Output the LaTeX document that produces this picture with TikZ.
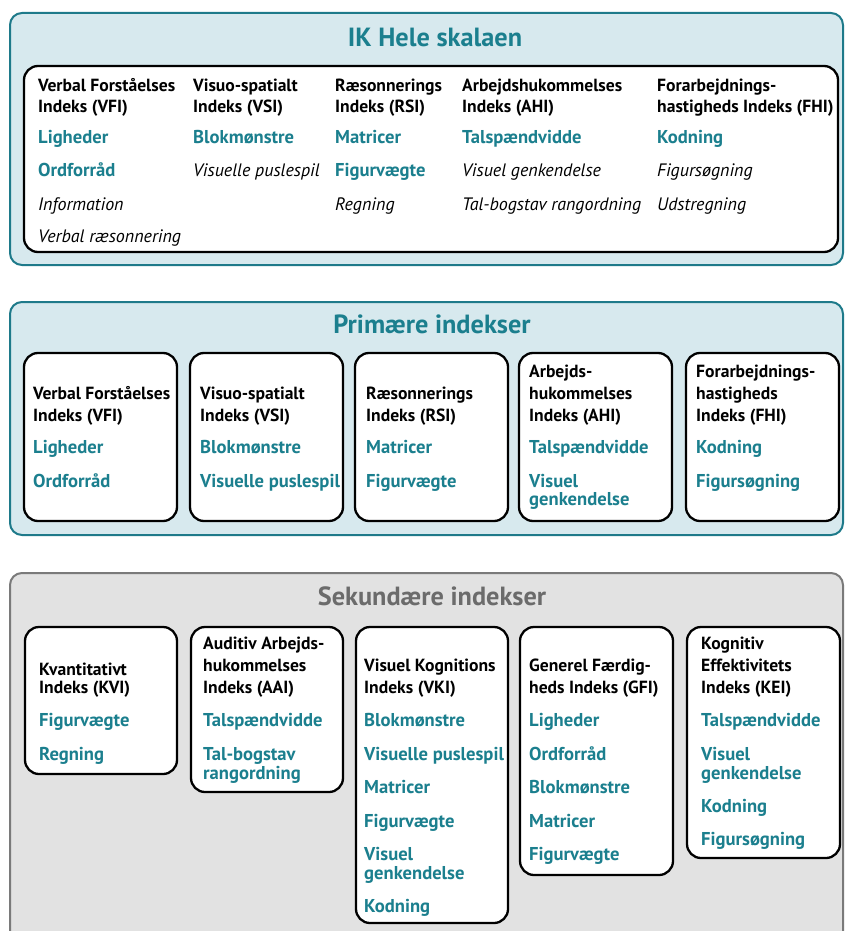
\documentclass[tikz,border=0pt]{standalone}
\usepackage{fontspec}
\setmainfont{PT Sans}
\definecolor{tealtx}{HTML}{1B7F8E}
\definecolor{tealbd}{HTML}{1E7A8A}
\definecolor{lightbl}{HTML}{D7E9EE}
\definecolor{grayfill}{HTML}{E2E2E2}
\definecolor{graybd}{HTML}{7A7A7A}
\definecolor{graytx}{HTML}{6B6B6B}
\begin{document}
\begin{tikzpicture}[x=1pt,y=-1pt,
  bluepanel/.style={draw=tealbd,fill=lightbl,line width=2pt,rounded corners=12pt},
  graypanel/.style={draw=graybd,fill=grayfill,line width=2pt,rounded corners=12pt},
  wbox/.style={draw=black,fill=white,line width=2.3pt,rounded corners=14pt},
  ptitle/.style={anchor=base,inner sep=0pt,font=\fontsize{26.3}{30}\selectfont\bfseries,text=tealtx},
  hd/.style={anchor=base west,inner sep=0pt,font=\fontsize{17.6}{20}\selectfont\bfseries,text=black},
  it/.style={anchor=base west,inner sep=0pt,font=\fontsize{18.6}{20}\selectfont\bfseries,text=tealtx},
  ix/.style={anchor=base west,inner sep=0pt,font=\fontsize{18}{20}\selectfont\itshape,text=black}]
\useasboundingbox (0,0) rectangle (845,931);

% ---------------- Panel 1 ----------------
\path[bluepanel] (10,13) rectangle (843,265);
\node[ptitle] (t1) at (435,47) {IK Hele skalaen};
\path[wbox] (24,66) rectangle (838,252);
% col 1
\node[hd] (a1h1) at (38,92) {Verbal Forståelses};
\node[hd] (a1h2) at (38,113) {Indeks (VFI)};
\node[it] (a1i1) at (38,143) {Ligheder};
\node[it] (a1i2) at (38,176) {Ordforråd};
\node[ix] (a1i3) at (38,210) {Information};
\node[ix] (a1i4) at (38,242) {Verbal ræsonnering};
% col 2
\node[hd] (a2h1) at (193,92) {Visuo-spatialt};
\node[hd] (a2h2) at (193,113) {Indeks (VSI)};
\node[it] (a2i1) at (193,143) {Blokmønstre};
\node[ix] (a2i2) at (193,176) {Visuelle puslespil};
% col 3
\node[hd] (a3h1) at (335,92) {Ræsonnerings};
\node[hd] (a3h2) at (335,113) {Indeks (RSI)};
\node[it] (a3i1) at (335,143) {Matricer};
\node[it] (a3i2) at (335,176) {Figurvægte};
\node[ix] (a3i3) at (335,210) {Regning};
% col 4
\node[hd] (a4h1) at (462,92) {Arbejdshukommelses};
\node[hd] (a4h2) at (462,113) {Indeks (AHI)};
\node[it] (a4i1) at (462,143) {Talspændvidde};
\node[ix] (a4i2) at (462,176) {Visuel genkendelse};
\node[ix] (a4i3) at (462,210) {Tal-bogstav rangordning};
% col 5
\node[hd] (a5h1) at (657,92) {Forarbejdnings-};
\node[hd] (a5h2) at (657,113) {hastigheds Indeks (FHI)};
\node[it] (a5i1) at (657,143) {Kodning};
\node[ix] (a5i2) at (657,176) {Figursøgning};
\node[ix] (a5i3) at (657,210) {Udstregning};

% ---------------- Panel 2 ----------------
\path[bluepanel] (10,302) rectangle (843,535);
\node[ptitle] (t2) at (432,333) {Primære indekser};
\path[wbox] (24,353) rectangle (177,521);
\path[wbox] (190,353) rectangle (343,521);
\path[wbox] (355,353) rectangle (508,521);
\path[wbox] (519,353) rectangle (672,521);
\path[wbox] (686,353) rectangle (839,521);
% box 1
\node[hd] (b1h1) at (33,399) {Verbal Forståelses};
\node[hd] (b1h2) at (33,421) {Indeks (VFI)};
\node[it] (b1i1) at (33,453) {Ligheder};
\node[it] (b1i2) at (33,487) {Ordforråd};
% box 2
\node[hd] (b2h1) at (200,399) {Visuo-spatialt};
\node[hd] (b2h2) at (200,421) {Indeks (VSI)};
\node[it] (b2i1) at (200,453) {Blokmønstre};
\node[it] (b2i2) at (200,487) {Visuelle puslespil};
% box 3
\node[hd] (b3h1) at (366,399) {Ræsonnerings};
\node[hd] (b3h2) at (366,421) {Indeks (RSI)};
\node[it] (b3i1) at (366,453) {Matricer};
\node[it] (b3i2) at (366,487) {Figurvægte};
% box 4
\node[hd] (b4h1) at (529,377) {Arbejds-};
\node[hd] (b4h2) at (529,399) {hukommelses};
\node[hd] (b4h3) at (529,421) {Indeks (AHI)};
\node[it] (b4i1) at (529,453) {Talspændvidde};
\node[it] (b4i2) at (529,487) {Visuel};
\node[it] (b4i3) at (529,505) {genkendelse};
% box 5
\node[hd] (b5h1) at (696,377) {Forarbejdnings-};
\node[hd] (b5h2) at (696,399) {hastigheds};
\node[hd] (b5h3) at (696,421) {Indeks (FHI)};
\node[it] (b5i1) at (696,453) {Kodning};
\node[it] (b5i2) at (696,487) {Figursøgning};

% ---------------- Panel 3 ----------------
\path[graypanel] (10,573) rectangle (843,950);
\node[ptitle,text=graytx] (t3) at (432,605) {Sekundære indekser};
\path[wbox] (25,627) rectangle (177,774);
\path[wbox] (191,627) rectangle (343,792);
\path[wbox] (356,627) rectangle (508,923);
\path[wbox] (520,627) rectangle (673,875);
\path[wbox] (687,627) rectangle (840,858);
% box 1
\node[hd] (c1h1) at (39,675) {Kvantitativt};
\node[hd] (c1h2) at (39,693) {Indeks (KVI)};
\node[it] (c1i1) at (39,726) {Figurvægte};
\node[it] (c1i2) at (39,760) {Regning};
% box 2
\node[hd] (c2h1) at (203,649) {Auditiv Arbejds-};
\node[hd] (c2h2) at (203,671) {hukommelses};
\node[hd] (c2h3) at (203,693) {Indeks (AAI)};
\node[it] (c2i1) at (203,726) {Talspændvidde};
\node[it] (c2i2) at (203,760) {Tal-bogstav};
\node[it] (c2i3) at (203,779) {rangordning};
% box 3
\node[hd] (c3h1) at (364,671) {Visuel Kognitions};
\node[hd] (c3h2) at (364,693) {Indeks (VKI)};
\node[it] (c3i1) at (364,726) {Blokmønstre};
\node[it] (c3i2) at (364,760) {Visuelle puslespil};
\node[it] (c3i3) at (364,793) {Matricer};
\node[it] (c3i4) at (364,827) {Figurvægte};
\node[it] (c3i5) at (364,860) {Visuel};
\node[it] (c3i6) at (364,879) {genkendelse};
\node[it] (c3i7) at (364,912) {Kodning};
% box 4
\node[hd] (c4h1) at (529,671) {Generel Færdig-};
\node[hd] (c4h2) at (529,693) {heds Indeks (GFI)};
\node[it] (c4i1) at (529,726) {Ligheder};
\node[it] (c4i2) at (529,760) {Ordforråd};
\node[it] (c4i3) at (529,793) {Blokmønstre};
\node[it] (c4i4) at (529,827) {Matricer};
\node[it] (c4i5) at (529,860) {Figurvægte};
% box 5
\node[hd] (c5h1) at (701,649) {Kognitiv};
\node[hd] (c5h2) at (701,671) {Effektivitets};
\node[hd] (c5h3) at (701,693) {Indeks (KEI)};
\node[it] (c5i1) at (701,726) {Talspændvidde};
\node[it] (c5i2) at (701,760) {Visuel};
\node[it] (c5i3) at (701,779) {genkendelse};
\node[it] (c5i4) at (701,812) {Kodning};
\node[it] (c5i5) at (701,845) {Figursøgning};
\end{tikzpicture}
\end{document}
